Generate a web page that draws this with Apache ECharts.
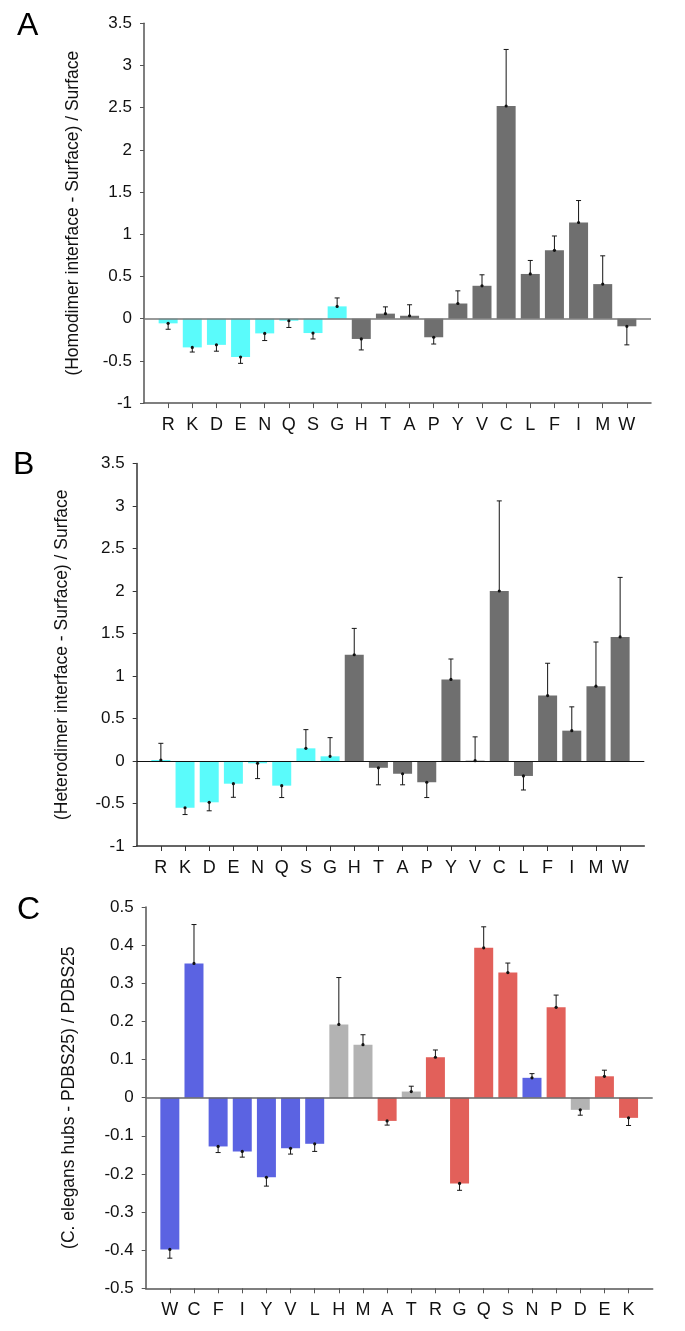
<!DOCTYPE html>
<html><head><meta charset="utf-8">
<script src="https://cdn.jsdelivr.net/npm/echarts@6/dist/echarts.min.js"></script>
<style>html,body{margin:0;padding:0;background:#fff}#c{width:685px;height:1331px}</style>
</head><body><div id="c"></div>
<script>
// ---- data ----
const catsAB = ['R','K','D','E','N','Q','S','G','H','T','A','P','Y','V','C','L','F','I','M','W'];
const groupAB = [0,0,0,0,0,0,0,0,1,1,1,1,1,1,1,1,1,1,1,1];
const valsA = [-0.055,-0.34,-0.31,-0.454,-0.174,-0.024,-0.17,0.146,-0.24,0.06,0.035,-0.22,0.18,0.39,2.52,0.53,0.81,1.14,0.41,-0.09];
const errA  = [0.07,0.055,0.075,0.075,0.085,0.08,0.07,0.10,0.13,0.08,0.13,0.08,0.15,0.13,0.67,0.16,0.17,0.26,0.335,0.22];
const valsB = [0.012,-0.55,-0.486,-0.267,-0.027,-0.29,0.149,0.055,1.25,-0.08,-0.15,-0.25,0.96,0.004,2.0,-0.176,0.77,0.357,0.88,1.46];
const errB  = [0.196,0.08,0.10,0.16,0.18,0.14,0.22,0.22,0.31,0.20,0.13,0.18,0.24,0.28,1.06,0.165,0.38,0.28,0.52,0.70];
const catsC = ['W','C','F','I','Y','V','L','H','M','A','T','R','G','Q','S','N','P','D','E','K'];
const groupC = [0,0,0,0,0,0,0,1,1,2,1,2,2,2,2,0,2,1,2,2];
const valsC = [-0.398,0.352,-0.128,-0.141,-0.209,-0.133,-0.121,0.192,0.139,-0.061,0.016,0.106,-0.225,0.393,0.328,0.052,0.237,-0.032,0.056,-0.053];
const errC  = [0.023,0.102,0.016,0.015,0.023,0.015,0.020,0.123,0.026,0.011,0.014,0.019,0.018,0.055,0.025,0.011,0.032,0.014,0.016,0.020];
const titleA = '(Homodimer interface - Surface) / Surface';
const titleB = '(Heterodimer interface - Surface) / Surface';
const titleC = '(C. elegans hubs - PDBS25) / PDBS25';

// ---- layout / style ----
const FONT = 'Liberation Sans, Arial, sans-serif';
const panels = [
  {letter:'A', lx:17, ly:10, cats:catsAB, vals:valsA, errs:errA, groups:groupAB, palette:['#5afbfb','#6f6f6f'],
   grid:{left:144, top:23.3, width:507, height:379.8}, min:-1, max:3.5, interval:0.5, name:titleA, nameGap:62,
   zero:'#777777', zeroW:1.5, axis:'#555555'},
  {letter:'B', lx:13, ly:449, cats:catsAB, vals:valsB, errs:errB, groups:groupAB, palette:['#5afbfb','#6f6f6f'],
   grid:{left:136.7, top:463.5, width:507.6, height:382.5}, min:-1, max:3.5, interval:0.5, name:titleB, nameGap:66,
   zero:'#111111', zeroW:1.2, axis:'#333333'},
  {letter:'C', lx:17, ly:894, cats:catsC, vals:valsC, errs:errC, groups:groupC, palette:['#5b63e2','#b3b3b3','#e2605a'],
   grid:{left:145.7, top:907, width:507, height:381.3}, min:-0.5, max:0.5, interval:0.1, name:titleC, nameGap:68,
   zero:'#666666', zeroW:1.5, axis:'#555555'}
];

const idx = catsAB.map((_, i) => i);
const grids = [], xAxes = [], yAxes = [], series = [], graphics = [];
panels.forEach((p, k) => {
  grids.push(Object.assign({containLabel:false}, p.grid));
  xAxes.push({
    type:'value', gridIndex:k, min:-1, max:20, interval:1,
    axisLine:{show:true, onZero:false, lineStyle:{color:p.axis, width:1.5}},
    axisTick:{show:true, customValues:idx, length:5, lineStyle:{color:p.axis, width:1}},
    axisLabel:{show:true, customValues:idx, margin:13, fontSize:18, color:'#111', fontFamily:FONT,
      formatter:(v) => p.cats[Math.round(v)] || ''},
    splitLine:{show:false}
  });
  yAxes.push({
    type:'value', gridIndex:k, min:p.min, max:p.max, interval:p.interval,
    name:p.name, nameLocation:'middle', nameGap:p.nameGap,
    nameTextStyle:{fontSize:17.5, color:'#111', fontFamily:FONT},
    axisLine:{show:true, onZero:false, lineStyle:{color:p.axis, width:1.5}},
    axisTick:{show:true, length:4, lineStyle:{color:p.axis, width:1}},
    axisLabel:{fontSize:17, color:'#111', fontFamily:FONT, margin:12,
      formatter:(v) => String(Math.round(v*10)/10)},
    splitLine:{show:false}
  });
  series.push({
    type:'bar', xAxisIndex:k, yAxisIndex:k, barWidth:19, silent:true, animation:false,
    data:p.vals.map((v, i) => ({value:[i, v], itemStyle:{color:p.palette[p.groups[i]]}})),
    markLine:{silent:true, symbol:['none','none'], label:{show:false},
      lineStyle:{color:p.zero, width:p.zeroW, type:'solid'}, data:[{yAxis:0}], animation:false}
  });
  series.push({
    type:'custom', xAxisIndex:k, yAxisIndex:k, silent:true, animation:false, z:5,
    data:p.vals.map((v, i) => [i, v, v + (v >= 0 ? 1 : -1) * p.errs[i]]),
    renderItem:(params, api) => {
      const a = api.coord([api.value(0), api.value(1)]);
      const b = api.coord([api.value(0), api.value(2)]);
      const st = {stroke:'#151515', lineWidth:1};
      return {type:'group', children:[
        {type:'line', shape:{x1:a[0], y1:a[1], x2:b[0], y2:b[1]}, style:st},
        {type:'line', shape:{x1:b[0]-2.5, y1:b[1], x2:b[0]+2.5, y2:b[1]}, style:st},
        {type:'circle', shape:{cx:a[0], cy:a[1], r:1.6}, style:{fill:'#111'}}
      ]};
    }
  });
  graphics.push({type:'text', left:p.lx, top:p.ly, silent:true,
    style:{text:p.letter, fontSize:32, fontFamily:FONT, fill:'#000'}});
});

const chart = echarts.init(document.getElementById('c'), null, {renderer:'canvas'});
chart.setOption({
  animation:false, backgroundColor:'#ffffff',
  grid:grids, xAxis:xAxes, yAxis:yAxes, series:series, graphic:graphics
});
</script></body></html>
